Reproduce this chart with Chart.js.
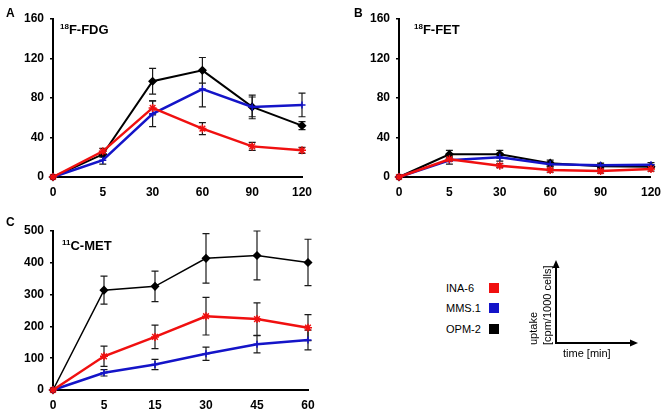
<!DOCTYPE html>
<html>
<head>
<meta charset="utf-8">
<script src="https://cdn.jsdelivr.net/npm/chart.js@4"></script>
<style>
  body { margin: 0; background: #fff; }
  #wrap { position: relative; width: 669px; height: 416px; font-family: "Liberation Sans", Arial, sans-serif; color: #000; }
  canvas { position: absolute; }
  .lbl { position: absolute; font-weight: bold; font-size: 12px; line-height: 12px; white-space: nowrap; }
  .ttl { position: absolute; font-weight: bold; font-size: 13px; line-height: 13px; white-space: nowrap; }
  .ttl sup { font-size: 8px; vertical-align: 5px; line-height: 0; }
  .leg { position: absolute; font-size: 11px; line-height: 12px; white-space: nowrap; }
  .sq { position: absolute; width: 10px; height: 10px; }
  .rot { position: absolute; font-size: 11px; line-height: 12px; white-space: nowrap; transform-origin: left top; transform: rotate(-90deg); }
</style>
</head>
<body>
<div id="wrap">
  <canvas id="chartA" width="330" height="200" style="left:0;top:0"></canvas>
  <canvas id="chartB" width="323" height="200" style="left:346px;top:0"></canvas>
  <canvas id="chartC" width="330" height="216" style="left:0;top:200px"></canvas>

  <div class="lbl" style="left:6px;top:7px">A</div>
  <div class="lbl" style="left:354px;top:7px">B</div>
  <div class="lbl" style="left:6px;top:216px">C</div>

  <div class="ttl" style="left:60px;top:23px"><sup>18</sup>F-FDG</div>
  <div class="ttl" style="left:414px;top:23px"><sup>18</sup>F-FET</div>
  <div class="ttl" style="left:62px;top:239px"><sup>11</sup>C-MET</div>

  <div class="leg" style="left:446px;top:282px">INA-6</div>
  <div class="leg" style="left:446px;top:302px">MMS.1</div>
  <div class="leg" style="left:446px;top:323px">OPM-2</div>
  <div class="sq" style="left:489px;top:283px;background:#f01010"></div>
  <div class="sq" style="left:489px;top:303px;background:#1414c8"></div>
  <div class="sq" style="left:489px;top:324px;background:#000"></div>

  <svg style="position:absolute;left:0;top:0" width="669" height="416">
    <line x1="556" y1="344" x2="556" y2="266" stroke="#000" stroke-width="2"/>
    <polygon points="556,260 552.5,268 559.5,268" fill="#000"/>
    <line x1="555" y1="343" x2="632" y2="343" stroke="#000" stroke-width="2"/>
    <polygon points="638,343 630,339.5 630,346.5" fill="#000"/>
  </svg>
  <div class="rot" style="left:527px;top:345px">uptake</div>
  <div class="rot" style="left:541px;top:345px">[cpm/1000 cells]</div>
  <div class="leg" style="left:563px;top:347px">time [min]</div>
</div>

<script>
// 18F-FDG
var fdgTimes = ['0', '5', '30', '60', '90', '120'];
var fdgIna6 = [0, 26, 70, 49, 31, 27];
var fdgIna6Err = [0, 3, 7, 6, 4, 3];
var fdgMms1 = [0, 17, 64, 89, 71, 73];
var fdgMms1Err = [0, 4, 13, 18, 10, 12];
var fdgOpm2 = [0, 23, 97, 108, 71, 52];
var fdgOpm2Err = [0, 3, 13, 13, 12, 4];

// 18F-FET
var fetTimes = ['0', '5', '30', '60', '90', '120'];
var fetIna6 = [0, 18, 11.5, 7, 6, 8];
var fetIna6Err = [0, 2, 2, 2, 2, 2];
var fetMms1 = [0, 17, 20, 13, 12, 12.5];
var fetMms1Err = [0, 4, 4, 2, 2, 2];
var fetOpm2 = [0, 23, 23, 14, 11, 10.5];
var fetOpm2Err = [0, 4, 4, 3, 2, 2];

// 11C-MET
var metTimes = ['0', '5', '15', '30', '45', '60'];
var metIna6 = [0, 106, 167, 232, 223, 196];
var metIna6Err = [0, 32, 37, 59, 51, 41];
var metMms1 = [0, 54, 80, 114, 144, 157];
var metMms1Err = [0, 10, 16, 21, 27, 31];
var metOpm2 = [0, 314, 326, 414, 423, 401];
var metOpm2Err = [0, 44, 48, 78, 77, 73];

var RED = '#f01010', BLUE = '#1414c8', BLACK = '#000';
var FONT = '"Liberation Sans", Arial, sans-serif';

var errorBars = {
    id: 'errorBars',
    beforeDatasetsDraw: function(chart) {
        var ctx = chart.ctx, y = chart.scales.y;
        ctx.save();
        ctx.strokeStyle = '#1a1a1a';
        ctx.lineWidth = 1.2;
        chart.data.datasets.forEach(function(ds, i) {
            var meta = chart.getDatasetMeta(i);
            if (!ds.errors) return;
            meta.data.forEach(function(pt, j) {
                var e = ds.errors[j];
                if (!e) return;
                var v = ds.data[j];
                var top = y.getPixelForValue(v + e), bot = y.getPixelForValue(v - e);
                var x = pt.x;
                ctx.beginPath();
                ctx.moveTo(x, top); ctx.lineTo(x, bot);
                ctx.moveTo(x - 3.5, top); ctx.lineTo(x + 3.5, top);
                ctx.moveTo(x - 3.5, bot); ctx.lineTo(x + 3.5, bot);
                ctx.stroke();
            });
        });
        ctx.restore();
    }
};

function series(data, errs, color, style, width, radius) {
    return {
        data: data,
        errors: errs,
        borderColor: color,
        backgroundColor: color,
        borderWidth: width,
        pointStyle: style,
        pointRadius: radius,
        pointBorderColor: color,
        pointBackgroundColor: color,
        pointBorderWidth: 1.5,
        tension: 0,
        clip: false
    };
}

function makePanel(id, labels, sets, yMax, yStep, pad, xHeight, blackWidth) {
    return new Chart(document.getElementById(id), {
        type: 'line',
        data: {
            labels: labels,
            datasets: [
                series(sets[0], sets[1], RED, 'star', 2.5, 4),
                series(sets[2], sets[3], BLUE, 'cross', 2.5, 3.5),
                series(sets[4], sets[5], BLACK, 'rectRot', blackWidth, 3.5)
            ]
        },
        options: {
            responsive: false,
            animation: false,
            layout: { padding: pad },
            plugins: { legend: { display: false }, tooltip: { enabled: false } },
            scales: {
                x: {
                    offset: false,
                    grid: { display: false, drawOnChartArea: false, drawTicks: false },
                    border: { color: '#000', width: 2 },
                    ticks: { color: '#000', padding: 8, maxRotation: 0, font: { family: FONT, size: 12, weight: 'bold' } },
                    afterFit: function(s) { s.height = xHeight; }
                },
                y: {
                    min: 0, max: yMax,
                    grid: { drawOnChartArea: false, drawTicks: true, tickLength: 3, color: '#000', lineWidth: 1.5 },
                    border: { color: '#000', width: 2 },
                    ticks: { stepSize: yStep, color: '#000', padding: 6, font: { family: FONT, size: 12, weight: 'bold' } },
                    afterFit: function(s) { s.width = 53; }
                }
            }
        },
        plugins: [errorBars]
    });
}

makePanel('chartA', fdgTimes, [fdgIna6, fdgIna6Err, fdgMms1, fdgMms1Err, fdgOpm2, fdgOpm2Err],
    160, 40, { top: 19, right: 28, left: 0, bottom: 0 }, 23, 2);
makePanel('chartB', fetTimes, [fetIna6, fetIna6Err, fetMms1, fetMms1Err, fetOpm2, fetOpm2Err],
    160, 40, { top: 19, right: 17, left: 0, bottom: 0 }, 23, 2);
makePanel('chartC', metTimes, [metIna6, metIna6Err, metMms1, metMms1Err, metOpm2, metOpm2Err],
    500, 100, { top: 31, right: 22, left: 0, bottom: 0 }, 26, 1.5);
</script>
</body>
</html>
